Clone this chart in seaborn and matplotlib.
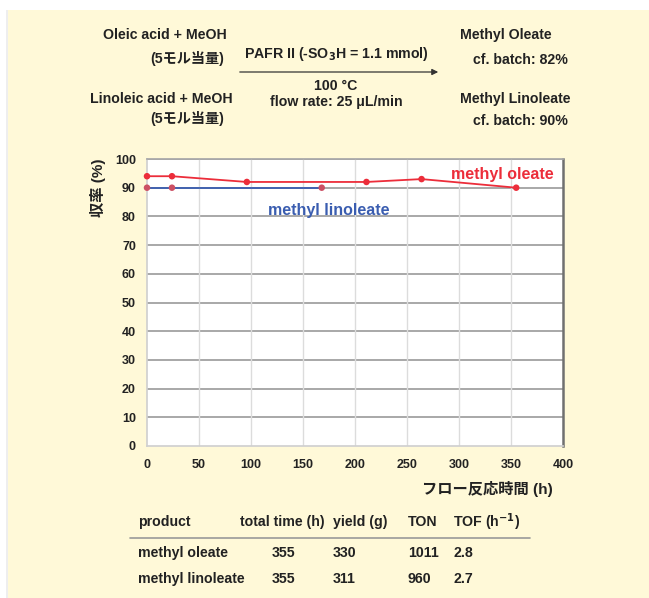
import matplotlib
matplotlib.use("Agg")
import matplotlib.pyplot as plt
import seaborn as sns
import pandas as pd
from matplotlib.patches import Rectangle, FancyArrowPatch

# Flow reaction yields over time
oleate_time = [0, 24, 96, 211, 264, 355]
oleate_yield = [94, 94, 92, 92, 93, 90]
linoleate_time = [0, 24, 168]
linoleate_yield = [90, 90, 90]

x_ticks = [0, 50, 100, 150, 200, 250, 300, 350, 400]
y_ticks = [0, 10, 20, 30, 40, 50, 60, 70, 80, 90, 100]

table_header = ["product", "total time (h)", "yield (g)", "TON", "TOF (h$^{\\mathbf{-1}}$)"]
table_rows = [
    ["methyl oleate", "355", "330", "1011", "2.8"],
    ["methyl linoleate", "355", "311", "960", "2.7"],
]

sns.set_theme(style="white")
plt.rcParams["font.family"] = ["Liberation Sans", "Noto Sans CJK JP", "DejaVu Sans"]
plt.rcParams["font.weight"] = "bold"
plt.rcParams["mathtext.default"] = "bf"

W, H = 649, 598
fig = plt.figure(figsize=(W / 100, H / 100), dpi=100)
fig.patch.set_facecolor("white")

def fx(px):
    return px / W

def fy(py):
    return 1 - py / H

cream = "#fff9d8"
fig.patches.append(Rectangle((fx(6), 0), 1 - fx(6), fy(10), transform=fig.transFigure,
                             facecolor="#eeeeee", edgecolor="none", zorder=-2))
fig.patches.append(Rectangle((fx(8), 0), 1 - fx(8), fy(10), transform=fig.transFigure,
                             facecolor=cream, edgecolor="none", zorder=-1))

# plot area
left, right, top, bottom = 147, 563, 159, 446
ax = fig.add_axes([fx(left), fy(bottom), fx(right - left), (bottom - top) / H])
ax.set_zorder(2)
ax.set_facecolor("white")

df_ol = pd.DataFrame({"time": oleate_time, "yield": oleate_yield})
df_li = pd.DataFrame({"time": linoleate_time, "yield": linoleate_yield})

red = "#ec2d3a"
blue = "#3a5db0"
sns.lineplot(data=df_li, x="time", y="yield", ax=ax, color=blue, lw=1.3, zorder=3)
sns.scatterplot(data=df_li, x="time", y="yield", ax=ax, color="#cc5064", s=22,
                edgecolor="none", zorder=4, clip_on=False)
sns.lineplot(data=df_ol, x="time", y="yield", ax=ax, color=red, lw=1.3, zorder=3)
sns.scatterplot(data=df_ol, x="time", y="yield", ax=ax, color=red, s=22,
                edgecolor="none", zorder=4, clip_on=False)

ax.set_xlim(0, 400)
ax.set_ylim(0, 100)
ax.set_xticks(x_ticks)
ax.set_yticks(y_ticks)
ax.set_xticklabels([str(v) for v in x_ticks], fontsize=9, fontweight="bold")
ax.set_yticklabels([str(v) for v in y_ticks], fontsize=9, fontweight="bold")
ax.tick_params(axis="both", length=0, colors="#222222")
ax.tick_params(axis="x", pad=9)
ax.tick_params(axis="y", pad=8)
for v in y_ticks[1:]:
    ax.axhline(v, color="#a8a8a8", lw=1.4, zorder=1)
for v in x_ticks[1:-1]:
    ax.axvline(v, color="#dcdcdc", lw=1.0, zorder=1)
ax.spines["left"].set_color("#d0d0d0")
ax.spines["bottom"].set_color("#d0d0d0")
ax.spines["top"].set_color("#a8a8a8")
ax.spines["right"].set_color("#707070")
ax.spines["right"].set_linewidth(1.8)
ax.set_xlabel("")
ax.set_ylabel("")

ax.text(292, 94.5, "methyl oleate", color=red, fontsize=11.5, fontweight="bold",
        va="center", ha="left")
ax.text(116, 82, "methyl linoleate", color=blue, fontsize=11.5, fontweight="bold",
        va="center", ha="left")

fig.text(fx(98), fy(188), "収率 (%)", rotation=90, ha="center", va="center",
         fontsize=11, fontweight="bold", color="#222222")
fig.text(fx(553), fy(489), "フロー反応時間 (h)", ha="right", va="center",
         fontsize=11, fontweight="bold", color="#222222")

# reaction scheme
def t(px, py, s, ha="left", size=10.2):
    fig.text(fx(px), fy(py), s, ha=ha, va="center", fontsize=size,
             fontweight="bold", color="#222222")

t(103, 35, "Oleic acid + MeOH")
t(150, 59, "(5モル当量)")
t(90, 99, "Linoleic acid + MeOH")
t(150, 118, "(5モル当量)")
t(336, 54, "PAFR II (-SO$_3$H = 1.1 mmol)", ha="center")
t(336, 86, "100 °C", ha="center")
t(336, 102, "flow rate: 25 μL/min", ha="center")
t(460, 35, "Methyl Oleate")
t(473, 60, "cf. batch: 82%")
t(460, 99, "Methyl Linoleate")
t(473, 121, "cf. batch: 90%")
fig.patches.append(FancyArrowPatch((fx(237), fy(72)), (fx(441), fy(72)),
                                   transform=fig.transFigure, arrowstyle="-|>",
                                   mutation_scale=9, color="#333333", lw=0.9))

# summary table
col_x = [138, 240, 333, 408, 453]
val_x = [138, 272, 333, 408, 453]
for x, s in zip(col_x, table_header):
    t(x, 522, s)
fig.add_artist(plt.Line2D([fx(130), fx(530)], [fy(538), fy(538)],
                          transform=fig.transFigure, color="#999999", lw=1.2))
for row, y in zip(table_rows, [553, 579]):
    for x, s in zip(val_x, row):
        t(x, y, s)

fig.savefig("out.png", dpi=100, facecolor="white")
